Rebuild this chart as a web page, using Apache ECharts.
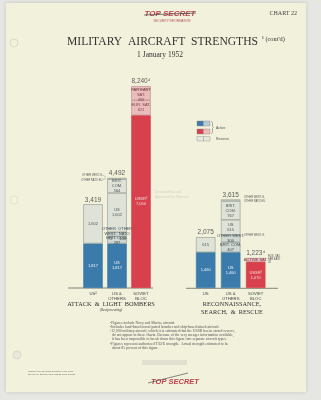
<!DOCTYPE html>
<html>
<head>
<meta charset="utf-8">
<script src="https://cdn.jsdelivr.net/npm/echarts@6/dist/echarts.min.js"></script>
<style>
  html, body { margin: 0; padding: 0; background: #e6e7e3; }
  #chart { width: 321px; height: 400px; }
</style>
</head>
<body>
<div id="chart"></div>
<script>
// categories (bars under each group)
var leftCats = ['US²', 'US &\nOTHERS', 'SOVIET\nBLOC'];
var rightCats = ['US', 'US &\nOTHERS', 'SOVIET\nBLOC'];

// attack & light bombers, segments from the base upward
var leftUS = [1817, 1602];
var leftUSNames = ['1,817', '1,602'];
var leftUSKinds = ['us', 'res'];
var leftAllied = [1817, 287, 172, 1602, 564, 50];
var leftAlliedNames = ['US\n1,817', 'BRIT. COM.\n287', 'OTHER  OTHER\nWEST.  NATO\n72      100', 'US\n1,602', 'BRIT.\nCOM.\n564', ''];
var leftAlliedKinds = ['us', 'oth', 'oth', 'res', 'res', 'res'];
var leftSoviet = [7050, 621, 450, 119];
var leftSovietNames = ['USSR³\n7,050', 'EUR. SAT.\n621', 'FAR EAST\nSAT.\n450', ''];
var leftSovietKinds = ['ussr', 'sat', 'sat', 'sat'];
var leftTotals = ['3,419', '4,492', '8,240⁴'];

// reconnaissance, search & rescue
var rightUS = [1460, 615];
var rightUSNames = ['1,460', '615'];
var rightUSKinds = ['us', 'res'];
var rightAllied = [1460, 407, 300, 615, 767, 66];
var rightAlliedNames = ['US\n1,460', 'BRIT. COM.\n407', 'OTHER WEST.\n300', 'US\n615', 'BRIT.\nCOM.\n767', ''];
var rightAlliedKinds = ['us', 'oth', 'oth', 'res', 'res', 'res'];
var rightSoviet = [1070, 153];
var rightSovietNames = ['USSR³\n1,070', 'ACTIVE SAT.'];
var rightSovietKinds = ['ussr', 'sat'];
var rightTotals = ['2,075', '3,615', '1,223⁴'];

var colors = {
  us:   { fill: '#3b7bab', text: '#eef3f6', border: '#3b7bab' },
  oth:  { fill: '#cfd8d2', text: '#3c4a50', border: '#8e9690' },
  res:  { fill: '#dfe3d7', text: '#4a5258', border: '#8e9690' },
  ussr: { fill: '#d7404c', text: '#f7dcdc', border: '#d7404c' },
  sat:  { fill: '#ebbcbc', text: '#7a3a40', border: '#b98a8c' }
};

var serif = '"Liberation Serif", "DejaVu Serif", serif';
var sans = '"Liberation Sans", "DejaVu Sans", sans-serif';

function layers(groups, axisIdx) {
  var maxLen = 0;
  groups.forEach(function (g) { maxLen = Math.max(maxLen, g.vals.length); });
  var out = [];
  for (var i = 0; i < maxLen; i++) {
    var data = groups.map(function (g) {
      if (i >= g.vals.length) return null;
      var c = colors[g.kinds[i]];
      return {
        value: g.vals[i],
        itemStyle: { color: c.fill, borderColor: c.border, borderWidth: 0.6 },
        label: { show: !!g.names[i], formatter: g.names[i], color: c.text }
      };
    });
    out.push({
      type: 'bar', stack: 'g' + axisIdx, xAxisIndex: axisIdx, yAxisIndex: axisIdx,
      barWidth: 19.5, silent: true,
      label: { position: 'inside', fontFamily: sans, fontSize: 4, lineHeight: 5 },
      data: data
    });
  }
  return out;
}

function totals(cats, groups, labels, axisIdx) {
  return {
    type: 'scatter', xAxisIndex: axisIdx, yAxisIndex: axisIdx, symbolSize: 0, silent: true,
    data: groups.map(function (g, k) {
      var s = 0; g.vals.forEach(function (v) { s += v; });
      return { value: [k, s], label: { formatter: labels[k] } };
    }),
    label: { show: true, position: 'top', distance: 1, fontFamily: sans, fontSize: 6.5, color: '#333' }
  };
}

var leftGroups = [
  { vals: leftUS, names: leftUSNames, kinds: leftUSKinds },
  { vals: leftAllied, names: leftAlliedNames, kinds: leftAlliedKinds },
  { vals: leftSoviet, names: leftSovietNames, kinds: leftSovietKinds }
];
var rightGroups = [
  { vals: rightUS, names: rightUSNames, kinds: rightUSKinds },
  { vals: rightAllied, names: rightAlliedNames, kinds: rightAlliedKinds },
  { vals: rightSoviet, names: rightSovietNames, kinds: rightSovietKinds }
];

function xAx(cats, idx) {
  return {
    type: 'category', gridIndex: idx, data: cats,
    axisLine: { show: false }, axisTick: { show: false },
    axisLabel: { fontFamily: sans, fontSize: 4.2, lineHeight: 5, color: '#444', margin: 3 }
  };
}
function yAx(idx) {
  return { type: 'value', gridIndex: idx, min: 0, max: 9000, show: false, splitLine: { show: false } };
}

var chart = echarts.init(document.getElementById('chart'));
var option = {
  backgroundColor: 'transparent',
  animation: false,
  grid: [
    { left: 81, width: 72, top: 67.5, bottom: 112 },
    { left: 193.2, width: 75, top: 67.5, bottom: 112 }
  ],
  xAxis: [xAx(leftCats, 0), xAx(rightCats, 1)],
  yAxis: [yAx(0), yAx(1)],
  series: [].concat(
    layers(leftGroups, 0), layers(rightGroups, 1),
    [totals(leftCats, leftGroups, leftTotals, 0), totals(rightCats, rightGroups, rightTotals, 1)]
  ),
  graphic: [
    // page
    { type: 'rect', z: -10, shape: { x: 6, y: 3, width: 300, height: 389 },
      style: { fill: '#f2f1dc', shadowBlur: 4, shadowColor: 'rgba(0,0,0,0.15)' } },
    // binder holes
    { type: 'circle', shape: { cx: 14, cy: 43, r: 4 }, style: { fill: 'none', stroke: '#d4d3c4', lineWidth: 0.8 } },
    { type: 'circle', shape: { cx: 14, cy: 200, r: 4 }, style: { fill: 'none', stroke: '#deddcc', lineWidth: 0.8 } },
    { type: 'circle', shape: { cx: 17, cy: 355, r: 4 }, style: { fill: '#e9e8da', stroke: '#d4d3c4', lineWidth: 0.8 } },
    // classification
    { type: 'text', x: 170, y: 10, style: { text: 'TOP SECRET', fill: '#c0404a', font: 'italic bold 8px ' + sans, align: 'center' } },
    { type: 'line', shape: { x1: 144, y1: 15, x2: 196, y2: 13 }, style: { stroke: '#555', lineWidth: 0.8 } },
    { type: 'text', x: 172, y: 20, style: { text: 'SECURITY INFORMATION', fill: '#b05058', font: '3px ' + sans, align: 'center' } },
    { type: 'text', x: 297, y: 10, style: { text: 'CHART 22', fill: '#444', font: '6px ' + serif, align: 'right' } },
    // titles
    { type: 'text', x: 67, y: 35.5, style: { text: 'MILITARY  AIRCRAFT  STRENGTHS', fill: '#333', font: '11.6px ' + serif } },
    { type: 'text', x: 262, y: 36, style: { text: '¹ (cont\'d)', fill: '#333', font: '6.3px ' + serif } },
    { type: 'text', x: 160, y: 51, style: { text: '1 January 1952', fill: '#333', font: '7.5px ' + serif, align: 'center' } },
    // legend
    { type: 'rect', shape: { x: 197, y: 121, width: 6.5, height: 5 }, style: { fill: '#3b7bab', stroke: '#888', lineWidth: 0.4 } },
    { type: 'rect', shape: { x: 203.5, y: 121, width: 6.5, height: 5 }, style: { fill: '#b7cad6', stroke: '#888', lineWidth: 0.4 } },
    { type: 'rect', shape: { x: 197, y: 129, width: 6.5, height: 5 }, style: { fill: '#d7404c', stroke: '#888', lineWidth: 0.4 } },
    { type: 'rect', shape: { x: 203.5, y: 129, width: 6.5, height: 5 }, style: { fill: '#ebbcbc', stroke: '#888', lineWidth: 0.4 } },
    { type: 'rect', shape: { x: 197, y: 136.5, width: 6.5, height: 4.5 }, style: { fill: '#e6e8dc', stroke: '#888', lineWidth: 0.4 } },
    { type: 'rect', shape: { x: 203.5, y: 136.5, width: 6.5, height: 4.5 }, style: { fill: '#e6e8dc', stroke: '#888', lineWidth: 0.4 } },
    { type: 'polyline', shape: { points: [[211, 121], [212.5, 122.5], [212.5, 126.5], [213.5, 127.5], [212.5, 128.5], [212.5, 132.5], [211, 134]] },
      style: { stroke: '#666', lineWidth: 0.5, fill: 'none' } },
    { type: 'text', x: 216, y: 126, style: { text: 'Active', fill: '#555', font: '3.5px ' + sans } },
    { type: 'text', x: 216, y: 137.5, style: { text: 'Reserve', fill: '#555', font: '3.5px ' + sans } },
    // baselines
    { type: 'line', shape: { x1: 68, y1: 288, x2: 153, y2: 288 }, style: { stroke: '#555', lineWidth: 0.7 } },
    { type: 'line', shape: { x1: 186, y1: 288.3, x2: 278, y2: 288.3 }, style: { stroke: '#555', lineWidth: 0.7 } },
    // pointer labels
    { type: 'text', x: 103, y: 173.5, style: { text: 'OTHER WEST. E.', fill: '#555', font: '2.6px ' + sans, align: 'right' } },
    { type: 'line', shape: { x1: 103, y1: 175, x2: 106, y2: 177.5 }, style: { stroke: '#777', lineWidth: 0.4 } },
    { type: 'text', x: 103, y: 178.5, style: { text: 'OTHER NATO EU.', fill: '#555', font: '2.6px ' + sans, align: 'right' } },
    { type: 'line', shape: { x1: 103, y1: 179.5, x2: 106, y2: 178.5 }, style: { stroke: '#777', lineWidth: 0.4 } },
    { type: 'text', x: 244, y: 196, style: { text: 'OTHER WEST. E.', fill: '#555', font: '2.6px ' + sans } },
    { type: 'text', x: 244, y: 200, style: { text: 'OTHER NATO EU.', fill: '#555', font: '2.6px ' + sans } },
    { type: 'text', x: 244, y: 233.5, style: { text: 'OTHER WEST. E.', fill: '#555', font: '2.6px ' + sans } },
    { type: 'text', x: 268, y: 255, style: { text: 'RUS. SAT.\nFAR EAST\n28', fill: '#555', font: '2.6px ' + sans, lineHeight: 3 } },
    // faint stamp
    { type: 'text', x: 155, y: 190, style: { text: 'Declassified and\nApproved for Release', fill: 'rgba(120,120,120,0.25)', font: '3.5px ' + sans, lineHeight: 4.5 } },
    // group titles
    { type: 'text', x: 111, y: 301, style: { text: 'ATTACK  &  LIGHT  BOMBERS', fill: '#333', font: '6.3px ' + serif, align: 'center' } },
    { type: 'text', x: 111, y: 308.5, style: { text: '(Reciprocating)', fill: '#444', font: 'italic 3.6px ' + serif, align: 'center' } },
    { type: 'text', x: 232, y: 301, style: { text: 'RECONNAISSANCE,\nSEARCH,  &  RESCUE', fill: '#333', font: '6.3px ' + serif, align: 'center', lineHeight: 7.5 } },
    // footnotes
    { type: 'text', x: 110, y: 321, style: {
      text: '¹Figures include Navy and Marine aircraft.\n' +
            '²Includes land-based naval patrol bomber and ship-based attack aircraft.\n' +
            '³12,000 military aircraft, which it is estimated that the USSR has in stored reserve,\n' +
            '  do not appear in these charts. Because of the very meager information available,\n' +
            '  it has been impossible to break down this figure into separate aircraft types.\n' +
            '⁴Figures represent authorized T/O/E strength.  Actual strength estimated to be\n' +
            '  about 85 percent of this figure.',
      fill: '#555', font: '3.8px ' + serif, lineHeight: 4.1 } },
    // bottom stamp
    { type: 'rect', shape: { x: 142, y: 360, width: 45, height: 5 }, style: { fill: 'rgba(170,170,170,0.25)' } },
    { type: 'text', x: 175, y: 378, style: { text: 'TOP SECRET', fill: '#c0404a', font: 'italic bold 7.5px ' + sans, align: 'center' } },
    { type: 'line', shape: { x1: 148, y1: 383, x2: 188, y2: 373 }, style: { stroke: '#555', lineWidth: 0.7 } },
    { type: 'text', x: 28, y: 370, style: { text: 'Graphic WP 25 (Third Revision) May 1952\nSM 12-43  Series 1 bulk equals 1000 aircraft', fill: '#666', font: '2.4px ' + sans, lineHeight: 3.2 } }
  ]
};
chart.setOption(option);
</script>
</body>
</html>
